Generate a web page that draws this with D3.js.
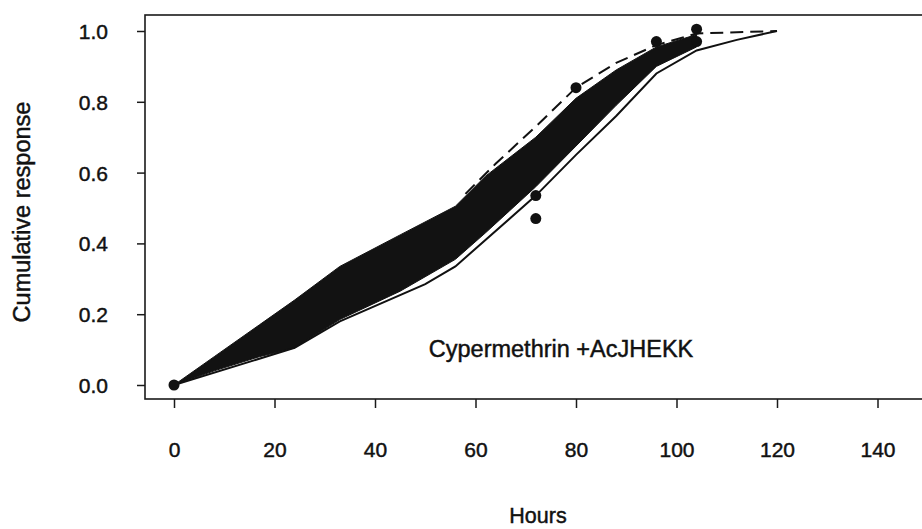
<!DOCTYPE html>
<html>
<head>
<meta charset="utf-8">
<script src="https://cdn.jsdelivr.net/npm/d3@7/dist/d3.min.js"></script>
<style>
  html, body { margin: 0; padding: 0; background: #fff; }
  svg { display: block; }
  text { font-family: "Liberation Sans", Arial, Helvetica, sans-serif; fill: #111; stroke: #111; stroke-width: 0.45px; }
</style>
</head>
<body>
<svg id="chart" width="922" height="529"></svg>
<script>
// Bootstrap envelope of fitted cumulative-response curves
const bandHours = [0, 8, 17, 24, 33, 45, 56, 62, 72, 80, 88, 96, 104];
const bandLower = [0, 0.04, 0.08, 0.105, 0.185, 0.265, 0.355, 0.43, 0.56, 0.675, 0.79, 0.9, 0.955];
const bandUpper = [0, 0.08, 0.17, 0.24, 0.335, 0.424, 0.505, 0.59, 0.70, 0.81, 0.89, 0.955, 0.99];

// Fitted curve (solid)
const solidHours = [0, 24, 33, 50, 56, 72, 80, 88, 96, 104, 112, 120];
const solidResp  = [0, 0.105, 0.18, 0.285, 0.335, 0.535, 0.65, 0.76, 0.88, 0.945, 0.975, 1.0];

// Alternative curve (dashed)
const dashedHours = [58, 64, 72, 80, 88, 96, 104, 120];
const dashedResp  = [0.54, 0.625, 0.73, 0.84, 0.91, 0.96, 0.993, 1.0];

// Observed cumulative responses
const obsHours = [0, 72, 72, 80, 96, 104, 104];
const obsResp  = [0, 0.535, 0.47, 0.84, 0.97, 1.005, 0.97];

const xTicks = [0, 20, 40, 60, 80, 100, 120, 140];
const yTicks = [0, 0.2, 0.4, 0.6, 0.8, 1.0];
const xTitle = "Hours";
const yTitle = "Cumulative response";
const note = "Cypermethrin +AcJHEKK";

const svg = d3.select("#chart");
const frame = { left: 145, top: 15, right: 935, bottom: 399 };

const x = d3.scaleLinear().domain([0, 140]).range([174, 877.5]);
const y = d3.scaleLinear().domain([0, 1]).range([385, 31]);

// plot frame (right side runs off the page)
svg.append("rect")
  .attr("x", frame.left).attr("y", frame.top)
  .attr("width", frame.right - frame.left).attr("height", frame.bottom - frame.top)
  .attr("fill", "none").attr("stroke", "#1a1a1a").attr("stroke-width", 1.6);

// axes
const yAxis = d3.axisLeft(y).tickValues(yTicks).tickFormat(d3.format(".1f"))
  .tickSize(8).tickPadding(29);
svg.append("g").attr("transform", `translate(${frame.left},0)`).call(yAxis)
  .call(g => g.select(".domain").remove())
  .call(g => g.selectAll("line").attr("stroke", "#1a1a1a").attr("stroke-width", 1.5))
  .call(g => g.selectAll("text").attr("font-size", 21).attr("dy", "0.36em")
    .style("fill", "#111").style("stroke", "#111").style("font-family", null));

const xAxis = d3.axisBottom(x).tickValues(xTicks).tickFormat(d3.format("d"))
  .tickSize(9).tickPadding(34);
svg.append("g").attr("transform", `translate(0,${frame.bottom})`).call(xAxis)
  .call(g => g.select(".domain").remove())
  .call(g => g.selectAll("line").attr("stroke", "#1a1a1a").attr("stroke-width", 1.5))
  .call(g => g.selectAll("text").attr("font-size", 21).attr("dy", "0.71em")
    .style("fill", "#111").style("stroke", "#111"));
svg.selectAll("g").attr("font-family", null);

// dashed curve beneath the envelope
const dashedPts = dashedHours.map((h, i) => [h, dashedResp[i]]);
const line = d3.line().x(d => x(d[0])).y(d => y(d[1]));
svg.append("path").datum(dashedPts).attr("d", line)
  .attr("fill", "none").attr("stroke", "#111").attr("stroke-width", 2)
  .attr("stroke-dasharray", "13,7");

// envelope
const bandPts = bandHours.map((h, i) => ({ h, lo: bandLower[i], hi: bandUpper[i] }));
const area = d3.area().x(d => x(d.h)).y0(d => y(d.lo)).y1(d => y(d.hi));
svg.append("path").datum(bandPts).attr("d", area)
  .attr("fill", "#121212").attr("stroke", "#121212").attr("stroke-width", 1);

// solid curve
const solidPts = solidHours.map((h, i) => [h, solidResp[i]]);
svg.append("path").datum(solidPts).attr("d", line)
  .attr("fill", "none").attr("stroke", "#111").attr("stroke-width", 2);

// observations
svg.append("g").selectAll("circle")
  .data(obsHours.map((h, i) => [h, obsResp[i]]))
  .join("circle")
  .attr("cx", d => x(d[0])).attr("cy", d => y(d[1])).attr("r", 5.5)
  .attr("fill", "#111");

// labels
svg.append("text").attr("x", 561).attr("y", 357).attr("text-anchor", "middle")
  .attr("font-size", 23.5).text(note);

svg.append("text").attr("x", 538).attr("y", 523).attr("text-anchor", "middle")
  .attr("font-size", 21.5).text(xTitle);

svg.append("text").attr("transform", "translate(30,212) rotate(-90)")
  .attr("text-anchor", "middle").attr("font-size", 23.5).text(yTitle);
</script>
</body>
</html>
